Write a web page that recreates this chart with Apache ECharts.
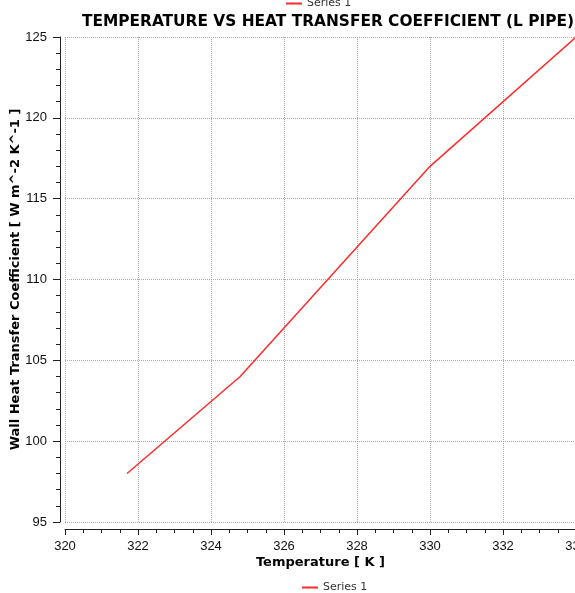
<!DOCTYPE html>
<html>
<head>
<meta charset="utf-8">
<script src="https://cdn.jsdelivr.net/npm/echarts@6/dist/echarts.min.js"></script>
<style>
html, body { margin: 0; padding: 0; background: #fff; }
#main { width: 575px; height: 593px; }
</style>
</head>
<body>
<div id="main"></div>
<script>
// temperature [K] vs wall heat transfer coefficient
var temperature = [321.7, 324.8, 330.0, 334.0];
var htc = [98.0, 104.0, 117.0, 125.0];
var xTicks = [320, 334, 2];
var yTicks = [95, 125, 5];

var points = temperature.map(function (t, i) { return [t, htc[i]]; });

var myChart = echarts.init(document.getElementById('main'));
myChart.setOption({
    animation: false,
    title: {
        text: 'TEMPERATURE VS HEAT TRANSFER COEFFICIENT (L PIPE)',
        left: 323,
        textAlign: 'center',
        top: 9,
        textStyle: {
            fontFamily: 'DejaVu Sans',
            fontWeight: 'bold',
            fontSize: 15.4,
            color: '#000'
        }
    },
    legend: [
        {
            data: ['Series 1'],
            left: 281,
            top: -7,
            itemWidth: 16,
            itemHeight: 2,
            icon: 'rect',
            textStyle: { fontFamily: 'DejaVu Sans', fontSize: 11, color: '#333' }
        },
        {
            data: ['Series 1'],
            left: 297,
            top: 577,
            itemWidth: 16,
            itemHeight: 2,
            icon: 'rect',
            textStyle: { fontFamily: 'DejaVu Sans', fontSize: 11, color: '#333' }
        }
    ],
    grid: {
        left: 65,
        top: 37,
        width: 511,
        height: 485,
        containLabel: false,
        outerBoundsMode: 'none'
    },
    xAxis: {
        type: 'value',
        min: xTicks[0],
        max: xTicks[1],
        interval: xTicks[2],
        offset: 7,
        name: 'Temperature [ K ]',
        nameLocation: 'middle',
        nameGap: 27,
        nameMoveOverlap: false,
        nameTextStyle: { fontFamily: 'DejaVu Sans', fontWeight: 'bold', fontSize: 13, color: '#000' },
        axisLine: { lineStyle: { color: '#222', width: 1 } },
        axisTick: { length: 6, lineStyle: { color: '#222' } },
        minorTick: { show: true, splitNumber: 4, length: 4, lineStyle: { color: '#222' } },
        axisLabel: { margin: 11, fontFamily: 'Liberation Sans', fontSize: 13, color: '#111' },
        splitLine: { show: true, lineStyle: { color: '#aaa', type: [1, 1], width: 1 } }
    },
    yAxis: {
        type: 'value',
        min: yTicks[0],
        max: yTicks[1],
        interval: yTicks[2],
        offset: 5,
        name: 'Wall Heat Transfer Coefficient [ W m^-2 K^-1 ]',
        nameLocation: 'middle',
        nameGap: 38,
        nameMoveOverlap: false,
        nameTextStyle: { fontFamily: 'DejaVu Sans', fontWeight: 'bold', fontSize: 13, color: '#000' },
        axisLine: { show: true, lineStyle: { color: '#222', width: 1 } },
        axisTick: { show: true, length: 7, lineStyle: { color: '#222' } },
        minorTick: { show: true, splitNumber: 5, length: 4, lineStyle: { color: '#222' } },
        axisLabel: { margin: 13, fontFamily: 'Liberation Sans', fontSize: 13, color: '#111' },
        splitLine: { show: true, lineStyle: { color: '#aaa', type: [1, 1], width: 1 } }
    },
    series: [
        {
            name: 'Series 1',
            type: 'line',
            data: points,
            showSymbol: false,
            symbol: 'none',
            color: '#ff2a2a',
            lineStyle: { color: '#ff2a2a', width: 1.5 }
        }
    ]
});
</script>
</body>
</html>
